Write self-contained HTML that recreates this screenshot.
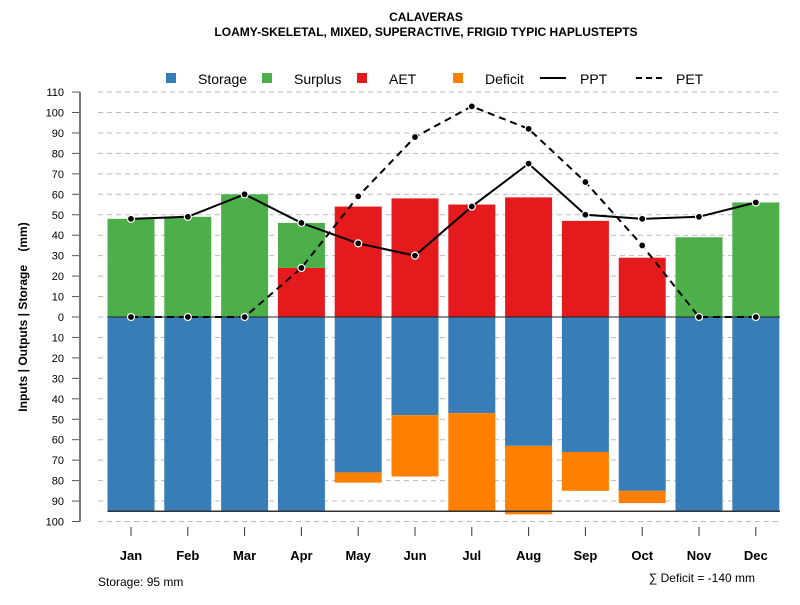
<!DOCTYPE html>
<html><head><meta charset="utf-8"><style>
body{margin:0;background:#fff;font-family:"Liberation Sans",sans-serif}
svg text{font-family:"Liberation Sans",sans-serif}
</style></head><body>
<svg id="c" width="800" height="600" xmlns="http://www.w3.org/2000/svg">
<text x="426" y="21" font-size="12" font-weight="bold" text-anchor="middle">CALAVERAS</text>
<text x="426" y="36" font-size="12" font-weight="bold" text-anchor="middle">LOAMY-SKELETAL, MIXED, SUPERACTIVE, FRIGID TYPIC HAPLUSTEPTS</text>
<g id="legend" font-size="14">
<rect x="166" y="73" width="10" height="10" fill="#377EB8"/><text x="198" y="84">Storage</text>
<rect x="262" y="73" width="10" height="10" fill="#4DAF4A"/><text x="294" y="84">Surplus</text>
<rect x="357" y="73" width="10" height="10" fill="#E41A1C"/><text x="389" y="84">AET</text>
<rect x="453" y="73" width="10" height="10" fill="#FF7F00"/><text x="485" y="84">Deficit</text>
<line x1="540" y1="78" x2="566" y2="78" stroke="#000" stroke-width="2"/><text x="580" y="84">PPT</text>
<line x1="636" y1="78" x2="662" y2="78" stroke="#000" stroke-width="2" stroke-dasharray="6,4"/><text x="676" y="84">PET</text>
</g>
<text transform="translate(27,317) rotate(-90)" font-size="12" font-weight="bold" text-anchor="middle" xml:space="preserve">Inputs | Outputs | Storage    (mm)</text>
<text x="98" y="586" font-size="12">Storage: 95 mm</text>
<text x="755" y="582" font-size="12" text-anchor="end">∑ Deficit = -140 mm</text>
</svg>
<script>
const months=["Jan","Feb","Mar","Apr","May","Jun","Jul","Aug","Sep","Oct","Nov","Dec"];
const storage=[95,95,95,95,76,48,47,63,66,85,95,95];
const surplus=[48,49,60,22,0,0,0,0,0,0,39,56];
const aet=[0,0,0,24,54,58,55,58.5,47,29,0,0];
const deficit=[0,0,0,0,5,30,48,33.5,19,6,0,0];
const ppt=[48,49,60,46,36,30,54,75,50,48,49,56];
const pet=[0,0,0,24,59,88,103,92,66,35,0,0];
const yTicks=[110,100,90,80,70,60,50,40,30,20,10,0,-10,-20,-30,-40,-50,-60,-70,-80,-90,-100];
const storageMax=95;
const svg=document.getElementById('c');const NS="http://www.w3.org/2000/svg";
const y=v=>317-v*2.045;const x=i=>131+i*56.8;const bw=47;
function mk(t,a,p){const e=document.createElementNS(NS,t);for(const k in a)e.setAttribute(k,a[k]);(p||svg).appendChild(e);return e;}
const grid=mk('g',{});
yTicks.forEach(v=>{
 const l=mk('line',{x1:98,x2:780,y1:y(v),y2:y(v),stroke:'#bbb','stroke-dasharray':'5,4'},grid);
 
 const tk=mk('line',{x1:72,x2:80,y1:y(v),y2:y(v),stroke:'#555'},grid);
 
 const t=mk('text',{x:64,y:y(v)+4,'font-size':11,'text-anchor':'end'},grid);t.textContent=Math.abs(v);
 
});
const ax=mk('line',{x1:80,x2:80,y1:y(110),y2:y(-100),stroke:'#777','stroke-width':2},grid);

const bars=mk('g',{});
function bar(i,a,b,col,name){if(a===b)return;const r=mk('rect',{x:x(i)-bw/2,y:y(Math.max(a,b)),width:bw,height:Math.abs(y(a)-y(b)),fill:col},bars);
 }
months.forEach((m,i)=>{
 bar(i,0,-storage[i],'#377EB8','storage-bar-'+m.toLowerCase());
 bar(i,-storage[i],-storage[i]-deficit[i],'#FF7F00','deficit-bar-'+m.toLowerCase());
 bar(i,0,aet[i],'#E41A1C','aet-bar-'+m.toLowerCase());
 bar(i,aet[i],aet[i]+surplus[i],'#4DAF4A','surplus-bar-'+m.toLowerCase());
 const tk=mk('line',{x1:x(i),x2:x(i),y1:527,y2:536,stroke:'#333'});
 
 const t=mk('text',{x:x(i),y:560,'font-size':13,'font-weight':'bold','text-anchor':'middle'});t.textContent=m;
 
});
const z=mk('line',{x1:x(0)-bw/2,x2:780,y1:y(0),y2:y(0),stroke:'#222'});
const sl=mk('line',{x1:x(0)-bw/2,x2:780,y1:y(-storageMax),y2:y(-storageMax),stroke:'#333','stroke-width':1.5});
function series(arr,name,dash){
 const p=mk('polyline',{points:arr.map((v,i)=>x(i)+','+y(v)).join(' '),fill:'none',stroke:'#000','stroke-width':2,'stroke-dasharray':dash});
 
 arr.forEach((v,i)=>{const c=mk('circle',{cx:x(i),cy:y(v),r:3.5,fill:'#000',stroke:'#fff','stroke-width':1.2});
  });
}
series(ppt,'ppt','none');series(pet,'pet','7,5');
</script>
</body></html>
